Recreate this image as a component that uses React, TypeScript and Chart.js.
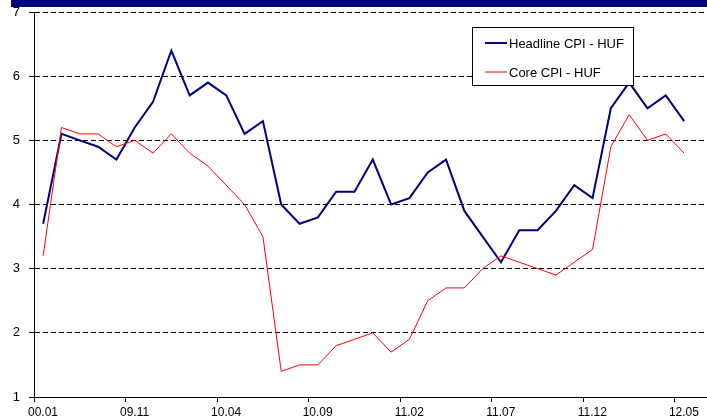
import React, { useEffect, useRef } from "react";
import { Chart, registerables } from "chart.js";

Chart.register(...registerables);

// ---- data ----
const categories = [
  "00.01", "09.07", "09.08", "09.09", "09.10", "09.11", "09.12",
  "10.01", "10.02", "10.03", "10.04", "10.05", "10.06", "10.07", "10.08", "10.09", "10.10", "10.11", "10.12",
  "11.01", "11.02", "11.03", "11.04", "11.05", "11.06", "11.07", "11.08", "11.09", "11.10", "11.11", "11.12",
  "12.01", "12.02", "12.03", "12.04", "12.05",
];
const headlineCPI = [
  3.7, 5.1, 5.0, 4.9, 4.7, 5.2, 5.6, 6.4, 5.7, 5.9, 5.7, 5.1, 5.3, 4.0, 3.7, 3.8, 4.2, 4.2,
  4.7, 4.0, 4.1, 4.5, 4.7, 3.9, 3.5, 3.1, 3.6, 3.6, 3.9, 4.3, 4.1, 5.5, 5.9, 5.5, 5.7, 5.3,
];
const coreCPI = [
  3.2, 5.2, 5.1, 5.1, 4.9, 5.0, 4.8, 5.1, 4.8, 4.6, 4.3, 4.0, 3.5, 1.4, 1.5, 1.5, 1.8, 1.9,
  2.0, 1.7, 1.9, 2.5, 2.7, 2.7, 3.0, 3.2, 3.1, 3.0, 2.9, 3.1, 3.3, 4.9, 5.4, 5.0, 5.1, 4.8,
];
const seriesNames = ["Headline CPI - HUF", "Core CPI - HUF"];
const yMin = 1;
const yMax = 7;
const labelEvery = 5;

const FONT = "'Liberation Sans', Arial, sans-serif";

const legendPlugin = {
  id: "boxLegend",
  afterDraw(chart: any) {
    const ctx = chart.ctx as CanvasRenderingContext2D;
    const bx = 472, by = 27, bw = 161, bh = 58;
    ctx.save();
    ctx.fillStyle = "#ffffff";
    ctx.fillRect(bx, by, bw, bh);
    ctx.strokeStyle = "#000000";
    ctx.lineWidth = 1;
    ctx.strokeRect(bx + 0.5, by + 0.5, bw, bh);
    ctx.font = `13px ${FONT}`;
    ctx.textBaseline = "middle";
    ctx.textAlign = "left";
    chart.data.datasets.forEach((ds: any, i: number) => {
      const cy = by + 16 + i * 29;
      ctx.beginPath();
      ctx.strokeStyle = ds.borderColor;
      ctx.lineWidth = ds.borderWidth;
      ctx.moveTo(bx + 13, cy);
      ctx.lineTo(bx + 35, cy);
      ctx.stroke();
      ctx.fillStyle = "#000000";
      ctx.fillText(ds.label, bx + 37, cy + 1);
    });
    ctx.restore();
  },
};

export default function App() {
  const canvasRef = useRef<HTMLCanvasElement | null>(null);

  useEffect(() => {
    if (!canvasRef.current) return;
    const chart = new Chart(canvasRef.current, {
      type: "line",
      data: {
        datasets: [
          {
            label: seriesNames[0],
            data: headlineCPI.map((v, i) => ({ x: i, y: v })),
            borderColor: "#000080",
            borderWidth: 2,
            pointRadius: 0,
            tension: 0,
            fill: false,
            order: 1,
          },
          {
            label: seriesNames[1],
            data: coreCPI.map((v, i) => ({ x: i, y: v })),
            borderColor: "#ff0000",
            borderWidth: 1,
            pointRadius: 0,
            tension: 0,
            fill: false,
            order: 0,
          },
        ],
      },
      options: {
        animation: false,
        responsive: false,
        maintainAspectRatio: false,
        layout: { padding: { top: 12, right: 0, left: 0, bottom: 0 } },
        plugins: { legend: { display: false }, tooltip: { enabled: false } },
        scales: {
          x: {
            type: "linear",
            bounds: "data",
            min: -0.5,
            max: 36.25,
            afterBuildTicks: (s: any) => {
              s.ticks = categories
                .map((_, i) => i)
                .filter((i) => i % labelEvery === 0)
                .map((i) => ({ value: i - 0.5 }));
            },
            afterFit: (s: any) => {
              s.height = 23;
              s.paddingLeft = 0;
              s.paddingRight = 0;
            },
            ticks: {
              autoSkip: false,
              maxRotation: 0,
              minRotation: 0,
              labelOffset: 9,
              padding: 3,
              color: "#000",
              font: { family: FONT, size: 12 },
              callback: (v: any) => categories[Math.round(Number(v) + 0.5)] ?? "",
            },
            grid: { drawOnChartArea: false, drawTicks: true, tickLength: 5, color: "#000" },
            border: { color: "#000", width: 1 },
          },
          y: {
            min: yMin,
            max: yMax,
            afterFit: (s: any) => {
              s.width = 34;
              s.paddingTop = 0;
              s.paddingBottom = 0;
            },
            ticks: {
              stepSize: 1,
              padding: 9,
              color: "#000",
              font: { family: FONT, size: 13 },
            },
            grid: { color: "#000", tickColor: "#000", tickLength: 5, tickBorderDash: [] },
            border: { color: "#000", width: 1, dash: [5, 3] },
          },
        },
      },
      plugins: [legendPlugin],
    } as any);
    return () => chart.destroy();
  }, []);

  return (
    <div style={{ position: "fixed", left: 0, top: 0, width: 707, height: 420, background: "#fff", overflow: "hidden" }}>
      <div style={{ position: "absolute", left: 11, top: 0, width: 696, height: 7, background: "#000080" }} />
      <canvas ref={canvasRef} width={707} height={420} style={{ position: "absolute", left: 0, top: 0, width: 707, height: 420 }} />
    </div>
  );
}
